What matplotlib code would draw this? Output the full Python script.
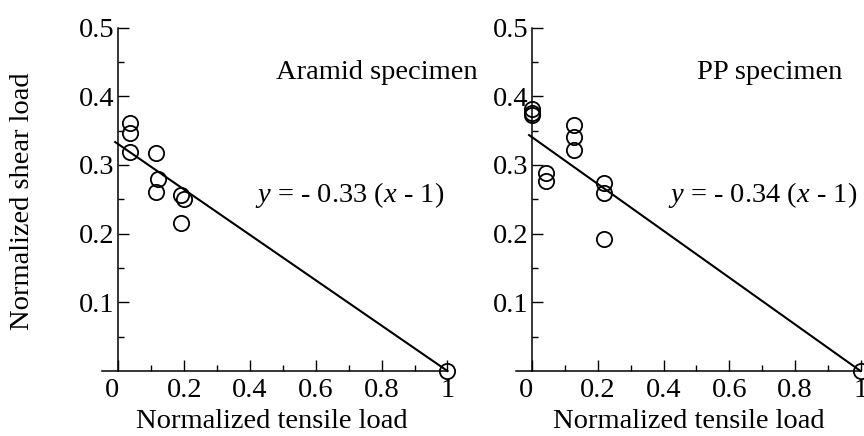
import matplotlib
matplotlib.use("Agg")
import matplotlib.pyplot as plt
import numpy as np
from matplotlib.ticker import FixedLocator

plt.rcParams['font.family'] = ['Liberation Serif', 'DejaVu Serif']
plt.rcParams['mathtext.fontset'] = 'custom'
plt.rcParams['mathtext.rm'] = 'Liberation Serif'
plt.rcParams['mathtext.it'] = 'Liberation Serif:italic'

# Aramid specimen data
aramid_x = [0.035, 0.035, 0.035, 0.113, 0.12, 0.115, 0.19, 0.20, 0.19, 1.0]
aramid_y = [0.361, 0.347, 0.319, 0.317, 0.279, 0.260, 0.256, 0.250, 0.216, 0.0]
aramid_slope = 0.33

# PP specimen data
pp_x = [0.0, 0.0, 0.0, 0.04, 0.04, 0.128, 0.128, 0.128, 0.219, 0.219, 0.219, 1.0]
pp_y = [0.381, 0.376, 0.372, 0.288, 0.277, 0.358, 0.340, 0.322, 0.273, 0.259, 0.192, 0.0]
pp_slope = 0.34

x_ticks = [0, 0.2, 0.4, 0.6, 0.8, 1.0]
x_ticklabels = ['0', '0.2', '0.4', '0.6', '0.8', '1']
y_ticks = [0.1, 0.2, 0.3, 0.4, 0.5]
y_ticklabels = ['0.1', '0.2', '0.3', '0.4', '0.5']

FS = 20.5
W, H = 864, 436
fig = plt.figure(figsize=(W / 100, H / 100), dpi=100)

def px_axes(x0, x1, ytop, ybot):
    return fig.add_axes([x0 / W, (H - ybot) / H, (x1 - x0) / W, (ybot - ytop) / H])

def setup(ax, xs, ys, slope, name, eq_label, name_xy, eq_xy):
    ax.set_xlim(-0.05, 1.0)
    ax.set_ylim(0, 0.5)
    ax.patch.set_alpha(0)
    for s in ['top', 'right']:
        ax.spines[s].set_visible(False)
    ax.spines['left'].set_position(('data', 0))
    ax.spines['left'].set_linewidth(1.1)
    ax.spines['bottom'].set_linewidth(1.1)
    ax.xaxis.set_major_locator(FixedLocator(x_ticks))
    # the "0" label is drawn separately, slightly left of the axis origin
    ax.set_xticklabels([''] + x_ticklabels[1:])
    ax.xaxis.set_minor_locator(FixedLocator([0.1, 0.3, 0.5, 0.7, 0.9]))
    ax.yaxis.set_major_locator(FixedLocator(y_ticks))
    ax.set_yticklabels(y_ticklabels)
    ax.yaxis.set_minor_locator(FixedLocator([0.05, 0.15, 0.25, 0.35, 0.45]))
    ax.tick_params(which='major', direction='in', length=8, width=1.0, labelsize=FS, pad=3)
    ax.tick_params(which='minor', direction='in', length=4, width=1.0)
    ax.tick_params(axis='x', pad=5)
    ax.annotate(x_ticklabels[0], xy=(x_ticks[0], 0), xycoords='data',
                xytext=(-4.5, -5), textcoords='offset points',
                ha='center', va='top', fontsize=FS, annotation_clip=False)
    xl = np.array([-0.01, 1.0])
    ax.plot(xl, -slope * (xl - 1), color='black', lw=1.5, clip_on=False, zorder=2)
    ax.plot(xs, ys, linestyle='none', marker='o', ms=11, mfc='none', mec='black',
            mew=1.3, clip_on=False, zorder=3)
    ax.text(name_xy[0], name_xy[1], name, fontsize=FS, ha='left', va='center',
            transform=ax.transData, clip_on=False)
    ax.text(eq_xy[0], eq_xy[1], eq_label, fontsize=FS, ha='left', va='center',
            transform=ax.transData, clip_on=False)

ax1 = px_axes(102, 447.5, 27.5, 371)
setup(ax1, aramid_x, aramid_y, aramid_slope, 'Aramid specimen',
      r'$y$ = - 0.33 ($x$ - 1)', (0.48, 0.435), (0.414, 0.256))

ax2 = px_axes(516, 860.5, 27.5, 371)
setup(ax2, pp_x, pp_y, pp_slope, 'PP specimen',
      r'$y$ = - 0.34 ($x$ - 1)', (0.502, 0.435), (0.414, 0.256))

fig.text(272 / W, 1 - 421 / H, 'Normalized tensile load', fontsize=FS, ha='center', va='center')
fig.text(689 / W, 1 - 421 / H, 'Normalized tensile load', fontsize=FS, ha='center', va='center')
fig.text(23 / W, 1 - 201 / H, 'Normalized shear load', fontsize=FS, ha='center', va='center',
         rotation=90)

fig.savefig('out.png', dpi=100)
